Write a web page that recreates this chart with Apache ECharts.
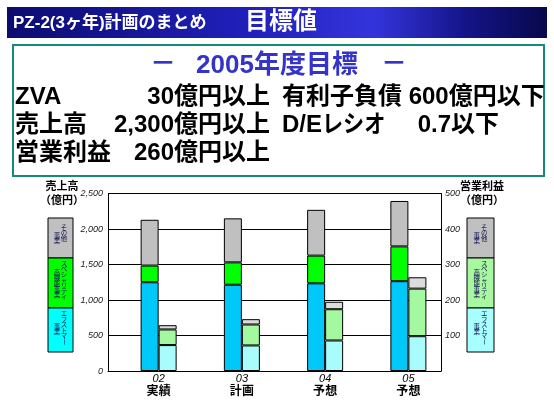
<!DOCTYPE html>
<html>
<head>
<meta charset="utf-8">
<script src="https://cdn.jsdelivr.net/npm/echarts/dist/echarts.min.js"></script>
<style>
html,body{margin:0;padding:0;background:#fff;}
#main{width:554px;height:411px;}
</style>
</head>
<body>
<div id="main"></div>
<script>
// 年度
var categories = ['02', '03', '04', '05'];
var periodNames = ['実績', '計画', '予想', '予想'];

// 売上高（億円） 積み上げ
var salesElastomer = [1250, 1215, 1235, 1265];
var salesSpecialty = [235, 315, 390, 490];
var salesOther = [645, 620, 645, 640];

// 営業利益（億円） 積み上げ
var profitElastomer = [73, 72, 86, 98];
var profitSpecialty = [44, 59, 88, 134];
var profitOther = [12, 15, 21, 32];

// 軸目盛
var salesMax = 2500, salesStep = 500;
var profitMax = 500, profitStep = 100;

// 凡例（縦書き）: [右の列, 左の列]
var legendTexts = [
	['その他', '事業'],
	['スペシャリティ', '高機能事業'],
	['エラストマー', '事業']
];

var jp = '"Liberation Sans", Arial, "Noto Sans CJK JP"';
var salesColors = ['#00c8f8', '#00ff00', '#c0c0c0'];
var profitColors = ['#a8fcfc', '#a4f8a0', '#dcdcdc'];

function txt(str, x, y, size, color, align, extra) {
	var o = {
		type: 'text', x: x, y: y, z: 10,
		style: {
			text: str, fill: color, font: (extra || 'bold') + ' ' + size + 'px ' + jp,
			align: align || 'left', verticalAlign: 'middle',
			textAlign: align || 'left', textVerticalAlign: 'middle'
		}
	};
	return o;
}

// 縦書きの列
function column(str, x, y0, out) {
	for (var i = 0; i < str.length; i++) {
		var t = txt(str[i], x, y0 + i * 5.6, 6.5, '#101050', 'center', 'normal');
		if (str[i] == 'ー') {
			t.rotation = -Math.PI / 2;
		}
		out.push(t);
	}
}

function legendBox(left, width, colors, out) {
	var tops = [218, 258, 308, 352];
	for (var i = 0; i < 3; i++) {
		out.push({
			type: 'rect', z: 5,
			shape: {x: left, y: tops[i], width: width, height: tops[i + 1] - tops[i]},
			style: {fill: colors[i], stroke: '#000', lineWidth: 1}
		});
	}
	column(legendTexts[0][0], left + width * 0.64, 228, out);
	column(legendTexts[0][1], left + width * 0.36, 236, out);
	column(legendTexts[1][0], left + width * 0.64, 264, out);
	column(legendTexts[1][1], left + width * 0.36, 273, out);
	column(legendTexts[2][0], left + width * 0.64, 314, out);
	column(legendTexts[2][1], left + width * 0.36, 327, out);
}

var graphics = [];
// ヘッダー
graphics.push({
	type: 'rect', shape: {x: 7, y: 7, width: 540, height: 31},
	style: {
		fill: new echarts.graphic.LinearGradient(0, 0, 1, 0, [
			{offset: 0, color: '#0c0c70'},
			{offset: 0.45, color: '#2020bc'},
			{offset: 0.68, color: '#3434dc'},
			{offset: 0.85, color: '#141488'},
			{offset: 1, color: '#08084c'}
		])
	}
});
graphics.push(txt('PZ-2(3ヶ年)計画のまとめ', 13, 23, 17, '#fff'));
graphics.push(txt('目標値', 245, 22, 24, '#fff'));

// 目標ボックス
graphics.push({
	type: 'rect', shape: {x: 13, y: 45, width: 531, height: 131},
	style: {fill: '#fff', stroke: '#168a7a', lineWidth: 2}
});
graphics.push(txt('－', 163, 65, 26, '#3434c8', 'center'));
graphics.push(txt('2005年度目標', 277, 66, 26, '#3434c8', 'center'));
graphics.push(txt('－', 394, 65, 26, '#3434c8', 'center'));

graphics.push(txt('ZVA', 15, 97, 24, '#000'));
graphics.push(txt('30億円以上', 270, 97, 24, '#000', 'right'));
graphics.push(txt('有利子負債 600億円以下', 282, 97, 24, '#000'));
graphics.push(txt('売上高', 15, 125, 24, '#000'));
graphics.push(txt('2,300億円以上', 270, 125, 24, '#000', 'right'));
graphics.push(txt('D/E', 282, 125, 24, '#000'));
var kana = txt('レシオ', 322, 125, 24, '#000');
kana.scaleX = 0.88;
graphics.push(kana);
graphics.push(txt('0.7以下', 499, 125, 24, '#000', 'right'));
graphics.push(txt('営業利益', 15, 153, 24, '#000'));
graphics.push(txt('260億円以上', 270, 153, 24, '#000', 'right'));

// 軸タイトル
graphics.push(txt('売上高', 62, 187, 11, '#000', 'center'));
graphics.push(txt('（億円）', 62, 201, 11, '#000', 'center'));
graphics.push(txt('営業利益', 482, 187, 11, '#000', 'center'));
graphics.push(txt('（億円）', 482, 201, 11, '#000', 'center'));

legendBox(48, 25, ['#c0c0c0', '#00ff00', '#00ffff'], graphics);
legendBox(467, 27, ['#c0c0c0', '#a8f8a0', '#a8ffff'], graphics);

function bar(name, data, stack, yIdx, color) {
	return {
		name: name, type: 'bar', stack: stack, yAxisIndex: yIdx,
		barWidth: 18, barGap: '0%',
		data: data,
		itemStyle: {color: color, borderColor: '#000', borderWidth: 1},
		emphasis: {disabled: true}
	};
}

var myChart = echarts.init(document.getElementById('main'));
var option = {
	animation: false,
	backgroundColor: '#fff',
	grid: [
		{left: 108, right: 113, top: 193.5, bottom: 40, outerBoundsMode: 'none'},
		// 年度ラベル用（売上・利益の2本の境目に合わせて9pxずらす）
		{left: 117, right: 104, top: 193.5, bottom: 40, outerBoundsMode: 'none'}
	],
	xAxis: [{
		type: 'category',
		data: categories,
		axisLine: {lineStyle: {color: '#000', width: 1}},
		axisTick: {inside: true, length: 4, lineStyle: {color: '#000'}},
		axisLabel: {show: false}
	}, {
		type: 'category', gridIndex: 1,
		data: categories,
		axisLine: {show: false},
		axisTick: {show: false},
		axisLabel: {
			margin: 2,
			formatter: function (v, i) {
				return '{a|' + v + '}\n{b|' + periodNames[i] + '}';
			},
			rich: {
				a: {fontSize: 11, fontStyle: 'italic', fontFamily: jp, color: '#000', lineHeight: 12},
				b: {fontSize: 12, fontWeight: 'bold', fontFamily: jp, color: '#000', lineHeight: 14}
			}
		}
	}],
	yAxis: [{
		type: 'value', min: 0, max: salesMax, interval: salesStep,
		axisLine: {show: true, lineStyle: {color: '#000'}},
		axisTick: {show: false},
		splitLine: {lineStyle: {color: '#000', width: 1}},
		axisLabel: {
			margin: 5, fontSize: 9, fontStyle: 'italic', color: '#222', fontFamily: jp,
			formatter: function (v) { return v.toLocaleString('en-US'); }
		}
	}, {
		type: 'value', min: 0, max: profitMax, interval: profitStep, position: 'right',
		axisLine: {show: true, lineStyle: {color: '#000'}},
		axisTick: {show: false},
		splitLine: {show: false},
		axisLabel: {
			margin: 4, fontSize: 9, fontStyle: 'italic', color: '#222', fontFamily: jp,
			formatter: function (v) { return v == 0 ? '' : String(v); }
		}
	}, {
		type: 'value', gridIndex: 1, show: false
	}],
	graphic: graphics,
	series: [
		// 左側の空き（売上高バーを年度の中央に置くため）
		{name: 'pad', type: 'bar', stack: 'pad', barWidth: 18, barGap: '0%', data: [], silent: true},
		bar('売上 エラストマー', salesElastomer, 'sales', 0, salesColors[0]),
		bar('売上 スペシャリティ', salesSpecialty, 'sales', 0, salesColors[1]),
		bar('売上 その他', salesOther, 'sales', 0, salesColors[2]),
		bar('利益 エラストマー', profitElastomer, 'profit', 1, profitColors[0]),
		bar('利益 スペシャリティ', profitSpecialty, 'profit', 1, profitColors[1]),
		bar('利益 その他', profitOther, 'profit', 1, profitColors[2])
	]
};
myChart.setOption(option);
</script>
</body>
</html>
